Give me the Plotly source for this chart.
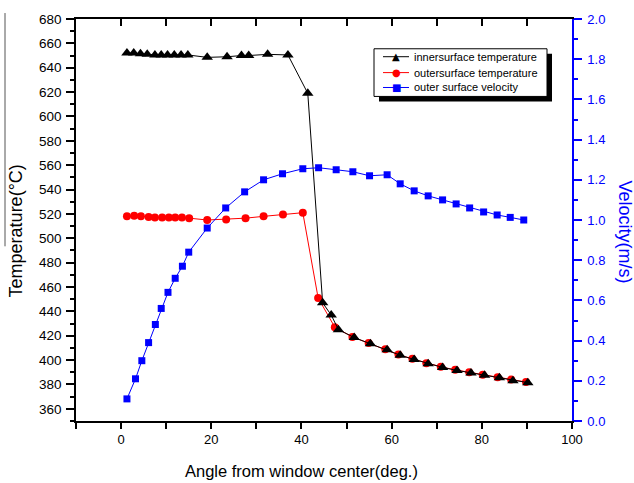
import plotly.graph_objects as go

# ---- data ----
inner_x = [1.3, 2.8, 4.3, 5.8, 7.5, 8.9, 10.3, 11.8, 13.3, 14.8, 19.1, 23.5, 26.7, 28.3,
           32.5, 37.0, 41.4, 44.7, 46.6, 48.2, 51.7, 55.3, 59.0, 61.9, 65.0, 68.1, 71.3,
           74.5, 77.6, 80.6, 83.9, 86.9, 90.2]
inner_t = [652, 652, 651.5, 651, 650.5, 650.5, 650.5, 650.5, 650.5, 650.5, 648.5, 649, 650, 650,
           651, 650.5, 619, 447, 437, 425, 418.5, 413.5, 408.5, 404, 400.5, 397, 394,
           391.5, 389.5, 387.5, 385.5, 383, 381.5]

outer_x = [1.3, 2.9, 4.4, 6.1, 7.5, 9.1, 10.6, 12.0, 13.5, 15.1, 19.1, 23.3, 27.6, 31.6,
           35.9, 40.3, 43.7, 47.4, 51.3, 54.9, 58.6, 61.5, 64.6, 67.7, 70.9, 74.1, 77.2,
           80.2, 83.5, 86.5, 89.8]
outer_t = [518, 518.5, 518, 517.5, 517, 517, 517, 517, 517, 516.5, 515, 515.5, 516.5, 518,
           519.5, 521, 451, 427, 419, 414, 409, 404.5, 401, 397.5, 394.5, 392, 390,
           388, 386, 384, 382]

vel_x = [1.3, 3.2, 4.6, 6.1, 7.6, 8.9, 10.4, 12.0, 13.6, 15.0, 19.1, 23.2, 27.4, 31.6,
         35.8, 40.3, 43.8, 47.7, 51.4, 55.1, 59.0, 61.9, 65.0, 68.1, 71.3, 74.3, 77.3,
         80.4, 83.4, 86.3, 89.3]
vel_v = [0.11, 0.21, 0.30, 0.39, 0.48, 0.56, 0.64, 0.71, 0.77, 0.84, 0.96, 1.06, 1.14, 1.20,
         1.23, 1.255, 1.26, 1.25, 1.24, 1.22, 1.225, 1.18, 1.145, 1.12, 1.10, 1.08, 1.06,
         1.04, 1.025, 1.013, 1.0]

legend_names = ["innersurface temperature", "outersurface temperature", "outer surface velocity"]
legend_colors = ["black", "#ff0000", "#0000ff"]
legend_glyphs = ["\u25B2", "\u25CF", "\u25A0"]

FONT = "Arial, Liberation Sans, sans-serif"
W, H = 634, 483
ML, MR, MT, MB = 76, 62, 16, 62
PW, PH = W - ML - MR, H - MT - MB


def px(xp):
    return (xp - ML) / PW


def py(yp):
    return (H - MB - yp) / PH


fig = go.Figure()

fig.add_trace(go.Scatter(x=outer_x, y=outer_t, mode="lines+markers",
                         line=dict(color="#ff0000", width=1),
                         marker=dict(symbol="circle", size=8, color="#ff0000"),
                         name=legend_names[1], showlegend=False))
fig.add_trace(go.Scatter(x=inner_x, y=inner_t, mode="lines+markers",
                         line=dict(color="black", width=1),
                         marker=dict(symbol="triangle-up", size=10, color="black"),
                         name=legend_names[0], showlegend=False))
fig.add_trace(go.Scatter(x=vel_x, y=vel_v, mode="lines+markers", yaxis="y2",
                         line=dict(color="#0000ff", width=1),
                         marker=dict(symbol="square", size=7, color="#0000ff"),
                         name=legend_names[2], showlegend=False))
# dummy trace to activate the top mirror axis
fig.add_trace(go.Scatter(x=[], y=[], xaxis="x2", showlegend=False, hoverinfo="skip"))

shapes = []
annotations = []

# legend (drawn by hand to match the compact original box)
bx0, bx1, by0, by1 = 374, 547, 46, 94
shapes.append(dict(type="rect", xref="paper", yref="paper",
                   x0=px(bx0 + 5), x1=px(bx1 + 5), y0=py(by1 + 5), y1=py(by0 + 5),
                   fillcolor="black", line=dict(width=0), layer="above"))
shapes.append(dict(type="rect", xref="paper", yref="paper",
                   x0=px(bx0), x1=px(bx1), y0=py(by1), y1=py(by0),
                   fillcolor="white", line=dict(color="black", width=1), layer="above"))
rows = [54, 70, 85]
for name, col, gl, ry in zip(legend_names, legend_colors, legend_glyphs, rows):
    shapes.append(dict(type="line", xref="paper", yref="paper",
                       x0=px(383), x1=px(409), y0=py(ry), y1=py(ry),
                       line=dict(color=col, width=1), layer="above"))
    annotations.append(dict(x=px(396), y=py(ry), xref="paper", yref="paper",
                            text=gl, showarrow=False, xanchor="center", yanchor="middle",
                            font=dict(family="DejaVu Sans", size=10, color=col)))
    annotations.append(dict(x=px(412), y=py(ry), xref="paper", yref="paper",
                            text=name, showarrow=False, xanchor="left", yanchor="middle",
                            font=dict(family=FONT, size=11, color="black")))

# stray vertical rule at far left of the original
shapes.append(dict(type="line", xref="paper", yref="paper",
                   x0=px(5), x1=px(5), y0=py(10), y1=py(245),
                   line=dict(color="#555555", width=1)))

# axis titles
annotations.append(dict(x=px(301), y=py(471), xref="paper", yref="paper",
                        text="Angle from window center(deg.)", showarrow=False,
                        xanchor="center", yanchor="middle",
                        font=dict(family=FONT, size=16.5, color="black")))
annotations.append(dict(x=px(16), y=py(230), xref="paper", yref="paper",
                        text="Temperature(°C)", showarrow=False, textangle=-90,
                        xanchor="center", yanchor="middle",
                        font=dict(family=FONT, size=18, color="black")))
annotations.append(dict(x=px(625), y=py(230), xref="paper", yref="paper",
                        text="Velocity(m/s)", showarrow=False, textangle=90,
                        xanchor="center", yanchor="middle",
                        font=dict(family=FONT, size=18, color="#0000ff")))

fig.update_layout(
    width=W, height=H,
    margin=dict(l=ML, r=MR, t=MT, b=MB, pad=0),
    paper_bgcolor="white", plot_bgcolor="white",
    showlegend=False,
    font=dict(family=FONT, size=13, color="black"),
    xaxis=dict(range=[-10, 100], tick0=0, dtick=20, ticks="outside", ticklen=6, tickwidth=1.5,
               tickcolor="black", showline=True, linecolor="black", linewidth=1.5,
               showgrid=False, zeroline=False, tickfont=dict(size=13),
               minor=dict(dtick=10, ticks="outside", ticklen=6, tickwidth=1.5, tickcolor="black"),
               anchor="y"),
    xaxis2=dict(range=[-10, 100], overlaying="x", side="top", anchor="y", tick0=0, dtick=10,
                ticks="inside", ticklen=7, tickwidth=1.5, tickcolor="black",
                showticklabels=False, showline=True, linecolor="black", linewidth=1.5,
                showgrid=False, zeroline=False),
    yaxis=dict(range=[350, 680], tick0=360, dtick=20, ticks="outside", ticklen=8, tickwidth=1.5,
               tickcolor="black", showline=True, linecolor="black", linewidth=1.5,
               showgrid=False, zeroline=False, tickfont=dict(size=13.5),
               ticklabelstandoff=2,
               minor=dict(dtick=10, ticks="outside", ticklen=4, tickwidth=1.5, tickcolor="black")),
    yaxis2=dict(range=[0, 2], overlaying="y", side="right", anchor="x", tick0=0, dtick=0.2,
                tickformat=".1f", ticks="outside", ticklen=8, tickwidth=1.5,
                tickcolor="#0000ff", showline=True, linecolor="#0000ff", linewidth=1.5,
                showgrid=False, zeroline=False, ticklabelstandoff=3,
                tickfont=dict(size=13, color="#0000ff"),
                minor=dict(dtick=0.1, ticks="outside", ticklen=4, tickwidth=1.5,
                           tickcolor="#0000ff")),
    shapes=shapes,
    annotations=annotations,
)

fig.write_html("out.html")
